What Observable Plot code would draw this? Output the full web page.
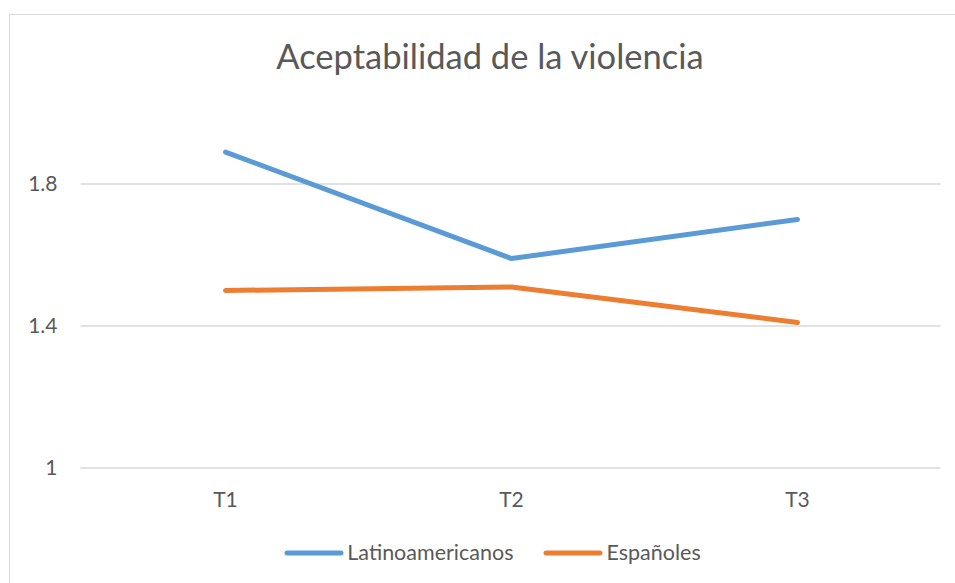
<!DOCTYPE html>
<html lang="es">
<head>
<meta charset="utf-8">
<title>Aceptabilidad de la violencia</title>
<script src="https://cdn.jsdelivr.net/npm/d3@7"></script>
<script src="https://cdn.jsdelivr.net/npm/@observablehq/plot@0.6"></script>
<style>
  html, body { margin: 0; padding: 0; background: #ffffff; }
  body {
    position: relative; width: 955px; height: 583px; overflow: hidden;
    font-family: Lato, "Open Sans", "Noto Sans", sans-serif; color: #595959;
  }
  #frame {
    position: absolute; left: 9px; top: 14px; width: 1000px; height: 1000px;
    border: 1.3px solid #d9d9d9; box-sizing: border-box;
  }
  #title {
    position: absolute; left: 0; width: 980px; top: 39px;
    text-align: center; font-size: 34.5px; line-height: 34px; color: #595959;
  }
  #chart { position: absolute; left: 0; top: 100px; }
  #legend {
    position: absolute; left: 0; width: 985px; top: 542px; height: 21px;
    display: flex; justify-content: center; align-items: center;
    font-size: 21.5px; line-height: 21px; color: #595959;
  }
  .item { display: flex; align-items: center; margin: 0 15px; }
  .item svg { margin-right: 3px; }
</style>
</head>
<body>
<div id="frame"></div>
<div id="title">Aceptabilidad de la violencia</div>
<div id="chart"></div>
<div id="legend"></div>
<script>
// Mediciones por periodo
const periodos = ["T1", "T2", "T3"];
const latinoamericanos = [1.89, 1.59, 1.70];
const espanoles = [1.50, 1.51, 1.41];
const ticksY = [1, 1.4, 1.8];
const grupos = ["Latinoamericanos", "Españoles"];
const colores = ["#5B9BD5", "#ED7D31"];

const filas = periodos.flatMap((p, i) => [
  {periodo: p, grupo: grupos[0], valor: latinoamericanos[i]},
  {periodo: p, grupo: grupos[1], valor: espanoles[i]}
]);

const grafico = Plot.plot({
  width: 955,
  height: 430,
  marginLeft: 80.5,
  marginRight: 14.5,
  marginTop: 12.5,
  marginBottom: 62.5,
  style: {fontFamily: 'Lato, "Open Sans", sans-serif', fontSize: "21px", color: "#595959", background: "transparent", overflow: "visible"},
  x: {type: "point", domain: periodos, padding: 0.5},
  y: {domain: [1, 2]},
  color: {domain: grupos, range: colores},
  marks: [
    Plot.ruleY(ticksY, {stroke: "#d9d9d9", strokeWidth: 1.3}),
    Plot.axisY(ticksY, {tickSize: 0, tickPadding: 23.5, label: null, tickFormat: d => String(d), fill: "#595959"}),
    Plot.axisX({tickSize: 0, tickPadding: 24.5, label: null, fill: "#595959"}),
    Plot.line(filas, {x: "periodo", y: "valor", z: "grupo", stroke: "grupo", strokeWidth: 5, strokeLinecap: "round", strokeLinejoin: "round"})
  ]
});
document.getElementById("chart").appendChild(grafico);

// Leyenda con muestras de línea
const leyenda = document.getElementById("legend");
grupos.forEach((g, i) => {
  const item = document.createElement("div");
  item.className = "item";
  item.innerHTML = `<svg width="60" height="10"><line x1="3" y1="5" x2="57" y2="5" stroke="${colores[i]}" stroke-width="5" stroke-linecap="round"/></svg><span>${g}</span>`;
  leyenda.appendChild(item);
});
</script>
</body>
</html>
